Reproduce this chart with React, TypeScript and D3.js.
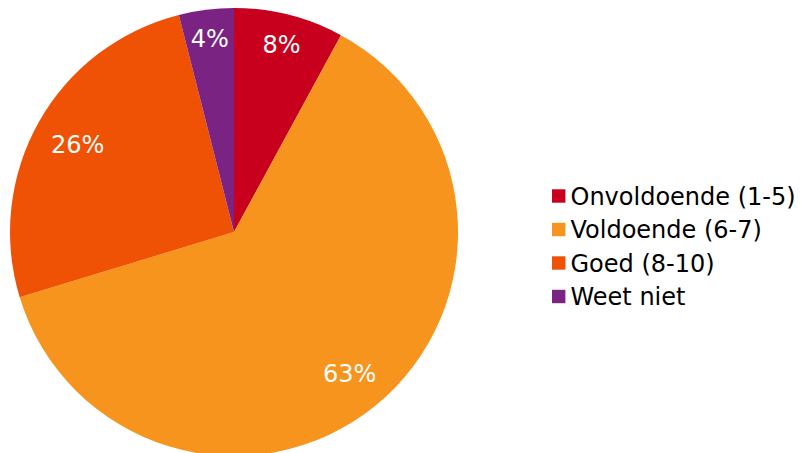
import React from "react";
import * as d3 from "d3";

const categories = ["Onvoldoende (1-5)", "Voldoende (6-7)", "Goed (8-10)", "Weet niet"];
const values = [8, 63, 26, 4];
const labels = ["8%", "63%", "26%", "4%"];
const colors = ["#C8001E", "#F7941D", "#EF5205", "#7B2383"];

const width = 802;
const height = 453;
const cx = 234;
const cy = 232;
const radius = 224;
const fontSize = 24;

// rough DejaVu Sans widths at 1em
const textWidth = (s: string) =>
  s.split("").reduce((w, ch) => w + (ch === "%" ? 0.95 : 0.636), 0) * fontSize;

// "inside end" placement: the far corner of the label box touches labelR
const labelR = 207;
const labelPos = (a: d3.PieArcDatum<number>, text: string): [number, number] => {
  const mid = (a.startAngle + a.endAngle) / 2;
  const ux = Math.sin(mid);
  const uy = -Math.cos(mid);
  const ox = (Math.sign(ux) * textWidth(text)) / 2;
  const oy = (Math.sign(uy) * fontSize * 0.729) / 2;
  const uo = ux * ox + uy * oy;
  const t = -uo + Math.sqrt(uo * uo - (ox * ox + oy * oy) + labelR * labelR);
  return [t * ux, t * uy];
};

export default function App() {
  const pie = d3
    .pie<number>()
    .sort(null)
    .value((d) => d);
  const arcs = pie(values);
  const arcGen = d3.arc<d3.PieArcDatum<number>>().innerRadius(0).outerRadius(radius);

  const legendY = d3
    .scalePoint<string>()
    .domain(categories)
    .range([196, 296.5]);

  return (
    <svg
      width={width}
      height={height}
      style={{ position: "absolute", left: 0, top: 0 }}
      fontFamily="'DejaVu Sans', Verdana, sans-serif"
    >
      <rect width={width} height={height} fill="#fff" />
      <g transform={`translate(${cx},${cy})`}>
        {arcs.map((a, i) => (
          <path key={i} d={arcGen(a) || ""} fill={colors[i]} />
        ))}
        {arcs.map((a, i) => {
          const [x, y] = labelPos(a, labels[i]);
          return (
            <text
              key={i}
              x={x}
              y={y}
              dy="0.36em"
              textAnchor="middle"
              fill="#fff"
              fontSize={fontSize}
            >
              {labels[i]}
            </text>
          );
        })}
      </g>
      <g>
        {categories.map((c, i) => (
          <g key={c} transform={`translate(552,${legendY(c)})`}>
            <rect x={0} y={-6.7} width={13.4} height={13.4} fill={colors[i]} />
            <text x={18.5} y={0} dy="0.36em" fontSize={fontSize} fill="#000">
              {c}
            </text>
          </g>
        ))}
      </g>
    </svg>
  );
}
